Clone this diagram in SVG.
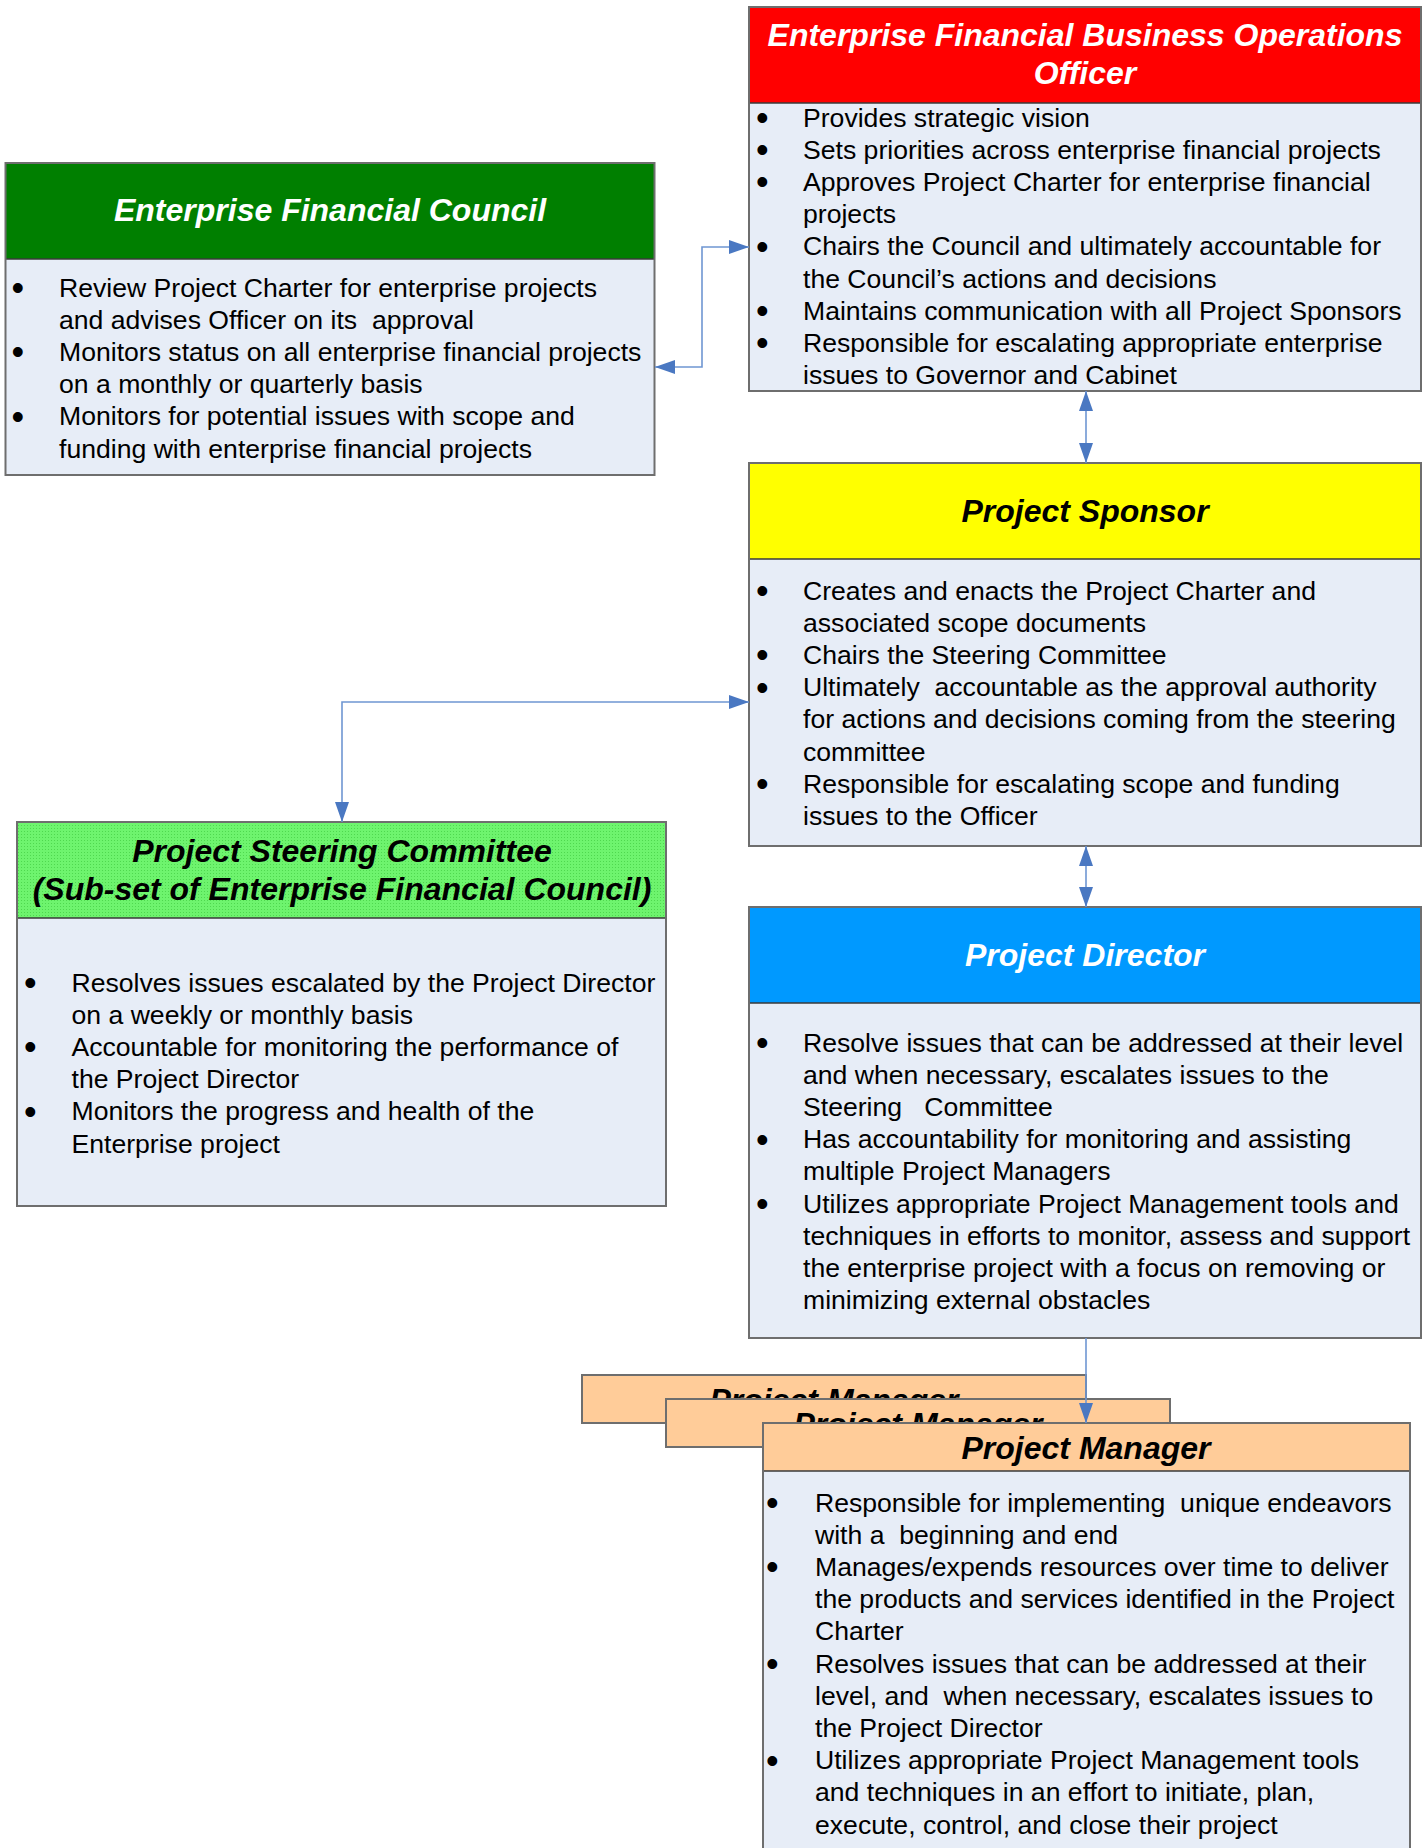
<svg xmlns="http://www.w3.org/2000/svg" width="1426" height="1848" viewBox="0 0 1426 1848">
<style>
.body{fill:#E7EDF7;}
.frame{fill:none;stroke:#6E6E6E;stroke-width:2;}
.sep{stroke:#3A3A3A;stroke-width:1.6;}
.title{font-family:"Liberation Sans",Arial,sans-serif;font-size:32px;font-weight:bold;font-style:italic;text-anchor:middle;}
.txt text{font-family:"Liberation Sans",Arial,sans-serif;font-size:26.6px;fill:#000;white-space:pre;}
.txt text.b{font-size:36px;}
.w{fill:#FFFFFF;}
.k{fill:#000000;}
.conn{fill:none;stroke:#6F96D2;stroke-width:1.6;}
</style>
<defs>
<marker id="ah" viewBox="0 0 20 14" refX="20" refY="7" markerWidth="20" markerHeight="14" markerUnits="userSpaceOnUse" orient="auto-start-reverse">
<path d="M0,0 L20,7 L0,14 z" fill="#4A78C2"/>
</marker>
<pattern id="greenpat" width="3" height="3" patternUnits="userSpaceOnUse">
<rect width="3" height="3" fill="#6EF46E"/>
<rect width="1" height="1" fill="#4FD84F"/>
</pattern>
<clipPath id="clip1"><rect x="582" y="1375" width="504" height="24"/></clipPath>
<clipPath id="clip2"><rect x="666" y="1399" width="504" height="24"/></clipPath>
</defs>

<rect width="1426" height="1848" fill="#FFFFFF"/>

<g id="officer">
<rect x="749" y="7" width="672" height="384" class="body"/>
<rect x="749" y="7" width="672" height="96" fill="#FF0000"/>
<line x1="749" y1="103" x2="1421" y2="103" class="sep"/>
<rect x="749" y="7" width="672" height="384" class="frame"/>
<text class="title w" x="1085" y="46">Enterprise Financial Business Operations</text>
<text class="title w" x="1085" y="84">Officer</text>
<g class="txt">
<text class="b" x="756" y="130">•</text><text x="803" y="126.5">Provides strategic vision</text>
<text class="b" x="756" y="162.2">•</text><text x="803" y="158.7">Sets priorities across enterprise financial projects</text>
<text class="b" x="756" y="194.4">•</text><text x="803" y="190.9">Approves Project Charter for enterprise financial</text>
<text x="803" y="223.1">projects</text>
<text class="b" x="756" y="258.8">•</text><text x="803" y="255.3">Chairs the Council and ultimately accountable for</text>
<text x="803" y="287.5">the Council’s actions and decisions</text>
<text class="b" x="756" y="323.2">•</text><text x="803" y="319.7">Maintains communication with all Project Sponsors</text>
<text class="b" x="756" y="355.4">•</text><text x="803" y="351.9">Responsible for escalating appropriate enterprise</text>
<text x="803" y="384.1">issues to Governor and Cabinet</text>
</g>
</g>

<g id="council">
<rect x="5.5" y="163" width="649" height="312" class="body"/>
<rect x="5.5" y="163" width="649" height="96" fill="#007F00"/>
<line x1="5.5" y1="259" x2="654.5" y2="259" class="sep"/>
<rect x="5.5" y="163" width="649" height="312" class="frame"/>
<text class="title w" x="330" y="221">Enterprise Financial Council</text>
<g class="txt">
<text class="b" x="11.5" y="300">•</text><text x="59" y="296.5">Review Project Charter for enterprise projects</text>
<text x="59" y="328.7">and advises Officer on its  approval</text>
<text class="b" x="11.5" y="364.4">•</text><text x="59" y="360.9">Monitors status on all enterprise financial projects</text>
<text x="59" y="393.1">on a monthly or quarterly basis</text>
<text class="b" x="11.5" y="428.8">•</text><text x="59" y="425.3">Monitors for potential issues with scope and</text>
<text x="59" y="457.5">funding with enterprise financial projects</text>
</g>
</g>

<g id="sponsor">
<rect x="749" y="463" width="672" height="383" class="body"/>
<rect x="749" y="463" width="672" height="96" fill="#FFFF00"/>
<line x1="749" y1="559" x2="1421" y2="559" class="sep"/>
<rect x="749" y="463" width="672" height="383" class="frame"/>
<text class="title k" x="1085" y="522">Project Sponsor</text>
<g class="txt">
<text class="b" x="756" y="603">•</text><text x="803" y="599.5">Creates and enacts the Project Charter and</text>
<text x="803" y="631.7">associated scope documents</text>
<text class="b" x="756" y="667.4">•</text><text x="803" y="663.9">Chairs the Steering Committee</text>
<text class="b" x="756" y="699.6">•</text><text x="803" y="696.1">Ultimately  accountable as the approval authority</text>
<text x="803" y="728.3">for actions and decisions coming from the steering</text>
<text x="803" y="760.5">committee</text>
<text class="b" x="756" y="796.2">•</text><text x="803" y="792.7">Responsible for escalating scope and funding</text>
<text x="803" y="824.9">issues to the Officer</text>
</g>
</g>

<g id="steering">
<rect x="17" y="822" width="649" height="384" class="body"/>
<rect x="17" y="822" width="649" height="96" fill="url(#greenpat)"/>
<line x1="17" y1="918" x2="666" y2="918" class="sep"/>
<rect x="17" y="822" width="649" height="384" class="frame"/>
<text class="title k" x="342" y="862">Project Steering Committee</text>
<text class="title k" x="342" y="900">(Sub-set of Enterprise Financial Council)</text>
<g class="txt">
<text class="b" x="24" y="995">•</text><text x="71.5" y="991.5">Resolves issues escalated by the Project Director</text>
<text x="71.5" y="1023.7">on a weekly or monthly basis</text>
<text class="b" x="24" y="1059.4">•</text><text x="71.5" y="1055.9">Accountable for monitoring the performance of</text>
<text x="71.5" y="1088.1">the Project Director</text>
<text class="b" x="24" y="1123.8">•</text><text x="71.5" y="1120.3">Monitors the progress and health of the</text>
<text x="71.5" y="1152.5">Enterprise project</text>
</g>
</g>

<g id="director">
<rect x="749" y="907" width="672" height="431" class="body"/>
<rect x="749" y="907" width="672" height="96" fill="#0099FF"/>
<line x1="749" y1="1003" x2="1421" y2="1003" class="sep"/>
<rect x="749" y="907" width="672" height="431" class="frame"/>
<text class="title w" x="1085" y="966">Project Director</text>
<g class="txt">
<text class="b" x="756" y="1055">•</text><text x="803" y="1051.5">Resolve issues that can be addressed at their level</text>
<text x="803" y="1083.7">and when necessary, escalates issues to the</text>
<text x="803" y="1115.9">Steering   Committee</text>
<text class="b" x="756" y="1151.6">•</text><text x="803" y="1148.1">Has accountability for monitoring and assisting</text>
<text x="803" y="1180.3">multiple Project Managers</text>
<text class="b" x="756" y="1216">•</text><text x="803" y="1212.5">Utilizes appropriate Project Management tools and</text>
<text x="803" y="1244.7">techniques in efforts to monitor, assess and support</text>
<text x="803" y="1276.9">the enterprise project with a focus on removing or</text>
<text x="803" y="1309.1">minimizing external obstacles</text>
</g>
</g>

<g id="pm-back-1">
<rect x="582" y="1375" width="504" height="48" fill="#FFCC99" stroke="#6E6E6E" stroke-width="2"/>
<text class="title k" x="834" y="1410.5" clip-path="url(#clip1)">Project Manager</text>
</g>

<g id="pm-back-2">
<rect x="666" y="1399" width="504" height="48" fill="#FFCC99" stroke="#6E6E6E" stroke-width="2"/>
<text class="title k" x="918" y="1434.5" clip-path="url(#clip2)">Project Manager</text>
</g>

<g id="pm">
<rect x="763" y="1423" width="647" height="440" class="body"/>
<rect x="763" y="1423" width="647" height="48" fill="#FFCC99"/>
<line x1="763" y1="1471" x2="1410" y2="1471" class="sep"/>
<rect x="763" y="1423" width="647" height="440" class="frame"/>
<text class="title k" x="1086" y="1458.5">Project Manager</text>
<g class="txt">
<text class="b" x="766" y="1515">•</text><text x="815" y="1511.5">Responsible for implementing  unique endeavors</text>
<text x="815" y="1543.7">with a  beginning and end</text>
<text class="b" x="766" y="1579.4">•</text><text x="815" y="1575.9">Manages/expends resources over time to deliver</text>
<text x="815" y="1608.1">the products and services identified in the Project</text>
<text x="815" y="1640.3">Charter</text>
<text class="b" x="766" y="1676">•</text><text x="815" y="1672.5">Resolves issues that can be addressed at their</text>
<text x="815" y="1704.7">level, and  when necessary, escalates issues to</text>
<text x="815" y="1736.9">the Project Director</text>
<text class="b" x="766" y="1772.6">•</text><text x="815" y="1769.1">Utilizes appropriate Project Management tools</text>
<text x="815" y="1801.3">and techniques in an effort to initiate, plan,</text>
<text x="815" y="1833.5">execute, control, and close their project</text>
</g>
</g>

<g id="connectors">
<path class="conn" d="M749,247 H702 V367 H655" marker-start="url(#ah)" marker-end="url(#ah)"/>
<path class="conn" d="M1086,391 V463" marker-start="url(#ah)" marker-end="url(#ah)"/>
<path class="conn" d="M749,702 H342 V822" marker-start="url(#ah)" marker-end="url(#ah)"/>
<path class="conn" d="M1086,846 V907" marker-start="url(#ah)" marker-end="url(#ah)"/>
<path class="conn" d="M1086,1338 V1423" marker-end="url(#ah)"/>
</g>
</svg>
